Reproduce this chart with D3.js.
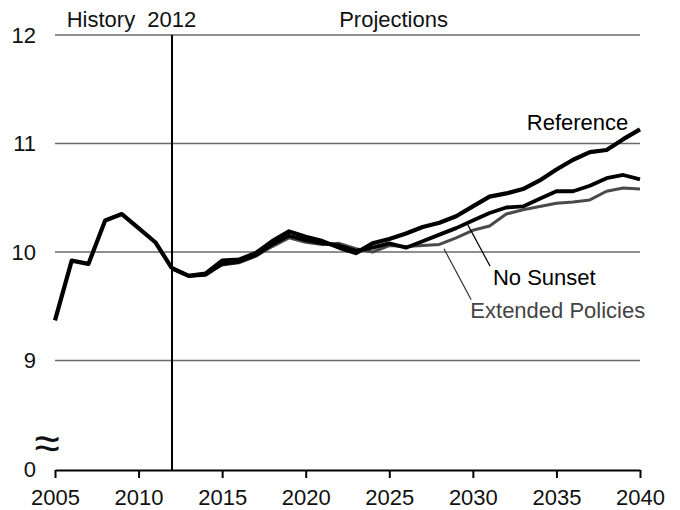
<!DOCTYPE html>
<html>
<head>
<meta charset="utf-8">
<script src="https://cdn.jsdelivr.net/npm/d3@7/dist/d3.min.js"></script>
<style>
  body { margin: 0; background: #fff; }
  svg { display: block; }
  text { font-family: "Liberation Sans", Arial, sans-serif; }
</style>
</head>
<body>
<svg id="chart" width="680" height="510"></svg>
<script>
// ---------- data ----------
const historyYears = [2005, 2006, 2007, 2008, 2009, 2010, 2011, 2012];
const historyValues = [9.37, 9.92, 9.89, 10.29, 10.35, 10.22, 10.09, 9.85];

const projYears = d3.range(2012, 2041);
const referenceValues = [9.85, 9.78, 9.80, 9.92, 9.93, 9.99, 10.10, 10.19, 10.14, 10.10,
  10.04, 9.99, 10.08, 10.12, 10.17, 10.23, 10.27, 10.33, 10.42, 10.51,
  10.54, 10.58, 10.66, 10.76, 10.85, 10.92, 10.94, 11.04, 11.13];
const noSunsetValues = [9.85, 9.78, 9.79, 9.89, 9.91, 9.97, 10.07, 10.15, 10.11, 10.08,
  10.06, 10.01, 10.04, 10.08, 10.04, 10.10, 10.16, 10.22, 10.29, 10.36,
  10.41, 10.42, 10.49, 10.56, 10.56, 10.61, 10.68, 10.71, 10.67];
const extendedValues = [9.85, 9.78, 9.80, 9.88, 9.90, 9.96, 10.05, 10.13, 10.09, 10.07,
  10.08, 10.03, 10.00, 10.06, 10.05, 10.06, 10.07, 10.13, 10.20, 10.24,
  10.35, 10.39, 10.42, 10.45, 10.46, 10.48, 10.56, 10.59, 10.58];

const xTicks = [2005, 2010, 2015, 2020, 2025, 2030, 2035, 2040];
// 8 on the scale stands for the broken-axis "0"
const yTicks = [8, 9, 10, 11, 12];
const yTickLabels = ["0", "9", "10", "11", "12"];

// ---------- scales ----------
const svg = d3.select("#chart");
const x = d3.scaleLinear().domain([2005, 2040]).range([55, 640]);
const y = d3.scaleLinear().domain([8, 12]).range([469, 35]);

const FONT = 22;

// gridlines
svg.append("g").selectAll("line").data([9, 10, 11, 12]).join("line")
  .attr("x1", x(2005)).attr("x2", x(2040))
  .attr("y1", d => y(d)).attr("y2", d => y(d))
  .attr("stroke", "#6a6a6a").attr("stroke-width", 1.4);

// y labels
svg.append("g").selectAll("text").data(yTicks).join("text")
  .attr("x", 36).attr("y", d => y(d))
  .attr("dy", "0.36em")
  .attr("text-anchor", "end")
  .attr("font-size", FONT)
  .attr("fill", "#111")
  .text((d, i) => yTickLabels[i]);

// break symbol
svg.append("text")
  .attr("x", 47).attr("y", y(8.095))
  .attr("text-anchor", "middle")
  .attr("font-size", 46)
  .attr("fill", "#111")
  .text("≈");

// x axis
const xAxis = d3.axisBottom(x).tickValues(xTicks).tickFormat(d3.format("d"))
  .tickSize(8).tickSizeOuter(0);
const gx = svg.append("g").attr("transform", `translate(0,${y(8) + 1})`).call(xAxis);
gx.select(".domain").attr("stroke", "#000").attr("stroke-width", 2);
gx.selectAll(".tick line").attr("stroke", "#000").attr("stroke-width", 2);
gx.selectAll(".tick text").attr("font-size", FONT).attr("fill", "#111")
  .attr("font-family", "Liberation Sans, Arial, sans-serif").attr("dy", "1.1em");

// 2012 divider
svg.append("line")
  .attr("x1", x(2012)).attr("x2", x(2012))
  .attr("y1", y(12)).attr("y2", y(8) + 1)
  .attr("stroke", "#000").attr("stroke-width", 2);

// header texts
svg.append("text").attr("x", x(2005.7)).attr("y", y(12.075))
  .attr("font-size", FONT).attr("fill", "#111").text("History\u00a0 2012");
svg.append("text").attr("x", x(2022)).attr("y", y(12.075))
  .attr("font-size", FONT).attr("fill", "#111").text("Projections");

// lines
const line = d3.line().x(d => x(d[0])).y(d => y(d[1]));
const zip = (xs, ys) => xs.map((v, i) => [v, ys[i]]);

svg.append("path").datum(zip(projYears, extendedValues)).attr("d", line)
  .attr("fill", "none").attr("stroke", "#4a4a4a").attr("stroke-width", 3)
  .attr("stroke-linejoin", "round");
svg.append("path").datum(zip(projYears, noSunsetValues)).attr("d", line)
  .attr("fill", "none").attr("stroke", "#000").attr("stroke-width", 3.8)
  .attr("stroke-linejoin", "round");
svg.append("path").datum(zip(projYears, referenceValues)).attr("d", line)
  .attr("fill", "none").attr("stroke", "#000").attr("stroke-width", 4.2)
  .attr("stroke-linejoin", "round");
svg.append("path").datum(zip(historyYears, historyValues)).attr("d", line)
  .attr("fill", "none").attr("stroke", "#000").attr("stroke-width", 4.2)
  .attr("stroke-linejoin", "round");

// annotations
svg.append("text").attr("x", x(2039.3)).attr("y", y(11.12))
  .attr("text-anchor", "end").attr("font-size", FONT).attr("fill", "#000").text("Reference");

svg.append("line")
  .attr("x1", x(2031.03)).attr("y1", y(9.87))
  .attr("x2", x(2029.7)).attr("y2", y(10.25))
  .attr("stroke", "#000").attr("stroke-width", 1.2);
svg.append("text").attr("x", x(2031.2)).attr("y", y(9.70))
  .attr("font-size", FONT).attr("fill", "#000").text("No Sunset");

svg.append("line")
  .attr("x1", x(2029.9)).attr("y1", y(9.56))
  .attr("x2", x(2028.27)).attr("y2", y(10.03))
  .attr("stroke", "#333").attr("stroke-width", 1.2);
svg.append("text").attr("x", x(2029.85)).attr("y", y(9.39))
  .attr("font-size", FONT).attr("fill", "#444").text("Extended Policies");
</script>
</body>
</html>
